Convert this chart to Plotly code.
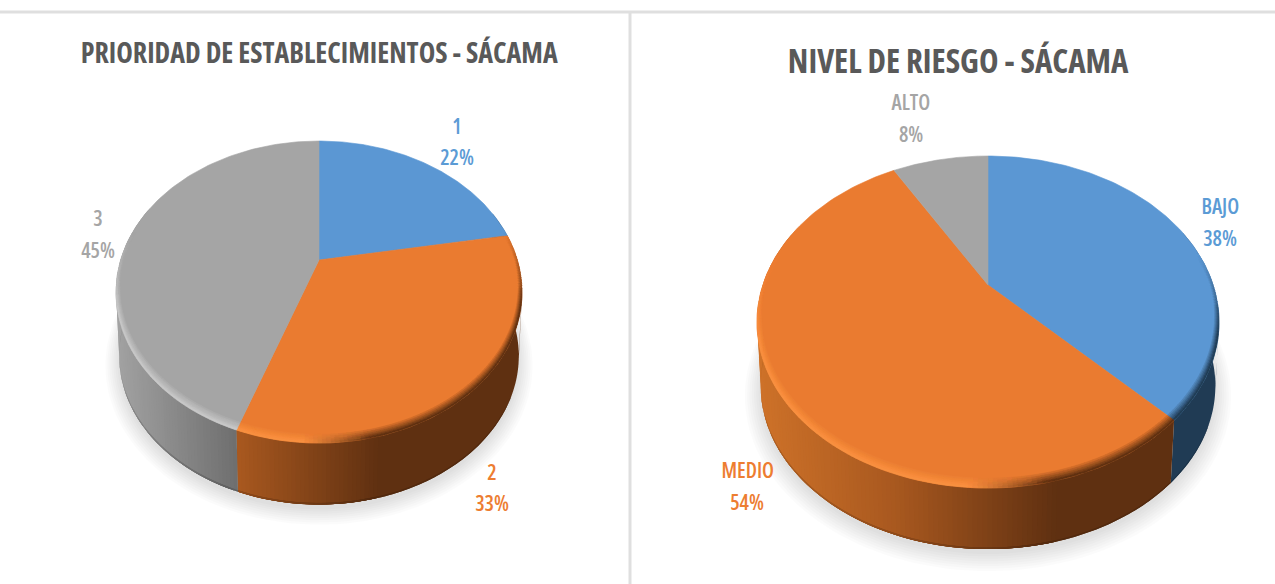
import numpy as np
import plotly.graph_objects as go

# ---- data ----
left_title = "PRIORIDAD DE ESTABLECIMIENTOS - SÁCAMA"
left_labels = ["1", "2", "3"]
left_values = [22.2, 33.2, 44.6]

right_title = "NIVEL DE RIESGO - SÁCAMA"
right_labels = ["BAJO", "MEDIO", "ALTO"]
right_values = [37.8, 53.9, 8.3]

# ---- style and layout ----
BASE = {"blue": "#5B97D3", "orange": "#EA7B30", "gray": "#A5A5A5"}
LABEL = {"blue": "#5B9BD5", "orange": "#ED7D31", "gray": "#A5A5A5"}
HIGH = {"blue": "#6CA8E0", "orange": "#FA8E3E", "gray": "#C6C6C6"}
WALL = {
    "blue": [(0, "#2A4A68"), (0.6, "#223D56"), (1, "#203B54")],
    "orange": [(0, "#CE7229"), (0.3, "#A8581F"), (0.65, "#5F3011"), (1, "#5F3011")],
    "gray": [(0, "#A2A2A2"), (0.3, "#6E6E6E"), (1, "#555555")],
}
ORDER = ["blue", "orange", "gray"]

left_geo = dict(cx=319, cy=260, top=119, bottom=183, rx=203, depth=65)
right_geo = dict(cx=988, cy=285, top=129, bottom=203, rx=231, depth=65)
left_label_pos = [(457, 126, 157), (492, 472, 503), (98, 218, 250)]
right_label_pos = [(1220, 206, 238), (747, 470, 502), (911, 102, 134)]


def hex2rgb(h):
    return np.array([int(h[i:i + 2], 16) for i in (1, 3, 5)], float)


def rgb2hex(c):
    return "#%02X%02X%02X" % tuple(int(round(v)) for v in np.clip(c, 0, 255))


def mix(a, b, f):
    return hex2rgb(a) * (1 - f) + hex2rgb(b) * f


def ramp(stops, t):
    xs = [s[0] for s in stops]
    cs = np.array([hex2rgb(s[1]) for s in stops])
    return rgb2hex([np.interp(t, xs, cs[:, i]) for i in range(3)])


class Proj:
    def __init__(self, cx, cy, top, bottom, rx, depth):
        ratio = top / bottom
        self.k = (1 - ratio) / (1 + ratio)
        self.B = top * (1 + self.k)
        self.A = rx * np.sqrt(1 - self.k ** 2)
        self.cx, self.cy, self.rx, self.depth = cx, cy, rx, depth

    def pt(self, theta, r=1.0, dy=0.0):
        X, Y = r * np.sin(theta), r * np.cos(theta)
        w = 1 + self.k * Y
        return self.cx + self.A * X / w, self.cy - self.B * Y / w + dy

    def t(self, x):
        return (x - (self.cx - self.rx)) / (2 * self.rx)


fig = go.Figure()


def add_layer(polys, width=0.6):
    for color, (xs, ys) in polys.items():
        fig.add_trace(go.Scatter(x=xs, y=ys, mode="lines", fill="toself", fillcolor=color,
                                 line=dict(color=color, width=width), hoverinfo="skip",
                                 showlegend=False))


def push(layer, color, xs, ys):
    bx, by = layer.setdefault(color, ([], []))
    bx.extend(list(xs) + [xs[0], None])
    by.extend(list(ys) + [ys[0], None])


def draw_pie(values, geo):
    p = Proj(**geo)
    d = p.depth
    total = sum(values)
    edges = 2 * np.pi * np.cumsum([0] + list(values)) / total

    all_th = np.linspace(0, 2 * np.pi, 181)
    for r in np.linspace(1.05, 0.985, 8):
        x, y = p.pt(all_th, r, d + 5)
        fig.add_trace(go.Scatter(x=x, y=y, mode="lines", fill="toself",
                                 fillcolor="rgba(0,0,0,0.014)", line=dict(width=0),
                                 hoverinfo="skip", showlegend=False))

    walls, feet, tops, rings = {}, {}, {}, {}
    for i, name in enumerate(ORDER):
        a0, a1 = edges[i], edges[i + 1]
        n = max(2, int(np.degrees(a1 - a0) / 1.0))
        th = np.linspace(a0, a1, n + 1)
        for j in range(n):
            tt = np.array([th[j], th[j + 1]])
            if np.cos(tt.mean()) > 0.35:
                continue
            # each strip reaches over the next so no seams show between them
            reach = np.linspace(th[j], th[min(j + 3, n)], 4)
            x0, y0 = p.pt(reach, 1.0)
            x1, y1 = p.pt(reach[::-1], 0.985, d)
            col = ramp(WALL[name], float(np.clip(p.t(p.pt(tt)[0].mean()), 0, 1)))
            push(walls, col, list(x0) + list(x1), list(y0) + list(y1))
            x2, y2 = p.pt(reach, 0.985, d - 1.5)
            foot = rgb2hex(mix(col, "#000000", 0.15))
            push(feet, foot, list(x2) + list(x1), list(y2) + list(y1))
        x, y = p.pt(np.linspace(a0, a1, 120))
        push(tops, BASE[name], [p.cx] + list(x), [p.cy] + list(y))
        for q in range(5):
            f = (q + 1) / 5
            for j in range(n):
                tt = np.array([th[j], th[j + 1]])
                mid = tt.mean()
                front = float(np.clip((0.2 - np.cos(mid)) / 0.5, 0, 1))
                if front <= 0:
                    continue
                band = 0.038 * (0.35 + 0.65 * abs(np.cos(mid)))
                x0, y0 = p.pt(tt, 1 - band * (1 - q / 5))
                x1, y1 = p.pt(tt[::-1], 1 - band * (1 - (q + 1) / 5))
                tx = float(np.clip(p.t(x0.mean()), 0, 1))
                lit = float(np.clip((0.62 - tx) / 0.16, 0, 1))
                wallc = ramp(WALL[name], tx)
                target = mix(wallc, HIGH[name], lit)
                c = hex2rgb(BASE[name]) * (1 - f * front) + target * f * front
                c = np.round(c / 4) * 4
                push(rings, rgb2hex(c), list(x0) + list(x1), list(y0) + list(y1))
    add_layer(walls, 0)
    add_layer(feet, 0)
    add_layer(tops)
    add_layer(rings)


draw_pie(left_values, left_geo)
draw_pie(right_values, right_geo)

annotations = []


def text(x, y, s, color, size, weight=400, font="Open Sans"):
    annotations.append(dict(x=x, y=y, xref="x", yref="y", text=s,
                            showarrow=False, xanchor="center", yanchor="middle",
                            font=dict(family=font, size=size, color=color, weight=weight)))


text(319, 52, left_title, "#595959", 28, 700)
text(958, 60, right_title, "#595959", 33, 700)
for labels, values, pos in ((left_labels, left_values, left_label_pos),
                            (right_labels, right_values, right_label_pos)):
    for lab, val, name, (x, y1, y2) in zip(labels, values, ORDER, pos):
        text(x, y1, lab, LABEL[name], 21, 600)
        text(x, y2, f"{round(val)}%", LABEL[name], 21, 600)

shapes = [
    dict(type="line", xref="x", yref="y", x0=0, x1=1275, y0=12, y1=12,
         line=dict(color="#DFDFDF", width=3), layer="below"),
    dict(type="line", xref="x", yref="y", x0=630, x1=630, y0=12, y1=584,
         line=dict(color="#DFDFDF", width=3), layer="below"),
]

fig.update_layout(
    width=1275, height=584, margin=dict(l=0, r=0, t=0, b=0),
    paper_bgcolor="white", plot_bgcolor="white", showlegend=False,
    xaxis=dict(range=[0, 1275], visible=False, fixedrange=True),
    yaxis=dict(range=[584, 0], visible=False, fixedrange=True),
    annotations=annotations, shapes=shapes,
)
fig.write_html("out.html", post_script="document.body.style.margin='0';document.body.style.overflow='hidden';"
               "document.querySelectorAll('.annotation-text').forEach(e=>{e.style.fontStretch='75%';});",
               config={"displayModeBar": False})
